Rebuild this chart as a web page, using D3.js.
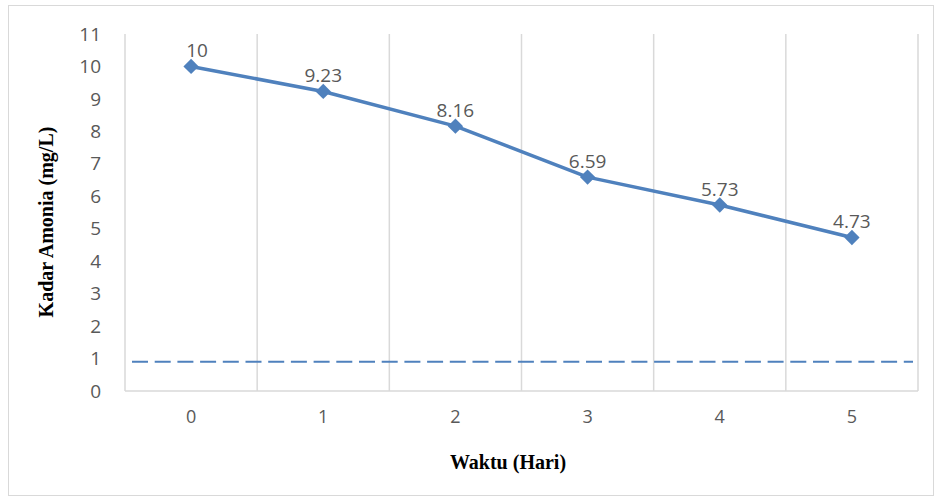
<!DOCTYPE html>
<html><head><meta charset="utf-8">
<script src="https://cdn.jsdelivr.net/npm/d3@7"></script>
<style>body{margin:0;background:#fff}svg{display:block}</style>
</head><body>
<script>
const categories = ["0","1","2","3","4","5"];
const values = [10, 9.23, 8.16, 6.59, 5.73, 4.73];
const valueLabels = ["10","9.23","8.16","6.59","5.73","4.73"];
const thresholdValue = [0.9];
const yTicks = [0,1,2,3,4,5,6,7,8,9,10,11];

const W = 935, H = 497;
const m = {left:125, right:17, top:34, bottom:106};
const svg = d3.select("body").append("svg").attr("width", W).attr("height", H);
svg.append("rect").attr("x",8.5).attr("y",5.5).attr("width",925).attr("height",490)
  .attr("fill","#fff").attr("stroke","#d9d9d9").attr("stroke-width",1);

const x = d3.scaleBand().domain(categories).range([m.left, W - m.right]).padding(0);
const y = d3.scaleLinear().domain([0, 11]).range([H - m.bottom, m.top]);

const bounds = categories.map(c => x(c)).concat([x(categories[categories.length-1]) + x.bandwidth()]);
svg.append("g").selectAll("line").data(bounds).join("line")
  .attr("x1", d => d).attr("x2", d => d).attr("y1", y(11)).attr("y2", y(0))
  .attr("stroke", "#d9d9d9").attr("stroke-width", 1.5);

svg.append("line").attr("x1", m.left).attr("x2", W - m.right).attr("y1", y(0)).attr("y2", y(0))
  .attr("stroke", "#d9d9d9").attr("stroke-width", 1.5);

const tickFont = "Open Sans, Liberation Sans, Arial, sans-serif";
const yAxis = d3.axisLeft(y).tickValues(yTicks).tickSize(0).tickPadding(24);
const gy = svg.append("g").attr("transform", `translate(${m.left},0)`).call(yAxis);
gy.select(".domain").remove();
gy.selectAll("text").attr("fill", "#595959").style("font-family", tickFont).style("font-size", "19px");

const xAxis = d3.axisBottom(x).tickSize(0).tickPadding(19);
const gx = svg.append("g").attr("transform", `translate(0,${y(0)})`).call(xAxis);
gx.select(".domain").remove();
gx.selectAll("text").attr("fill", "#595959").style("font-family", tickFont).style("font-size", "18px");

svg.append("g").selectAll("line").data(thresholdValue).join("line")
  .attr("x1", 132).attr("x2", 913).attr("y1", d => y(d)).attr("y2", d => y(d))
  .attr("stroke", "#4f81bd").attr("stroke-width", 2).attr("stroke-dasharray", "16,6.7");

const cx = c => x(c) + x.bandwidth()/2;
const line = d3.line().x((d,i) => cx(categories[i])).y(d => y(d));
svg.append("path").datum(values).attr("d", line).attr("fill","none")
  .attr("stroke", "#4f81bd").attr("stroke-width", 3.5).attr("stroke-linejoin","round");

svg.append("g").selectAll("path").data(values).join("path")
  .attr("d", d3.symbol().type(d3.symbolDiamond2).size(150)())
  .attr("transform", (d,i) => `translate(${cx(categories[i])},${y(d)})`)
  .attr("fill", "#4f81bd");

svg.append("g").selectAll("text").data(values).join("text")
  .attr("x", (d,i) => cx(categories[i]) + (i===0 ? 6 : 0))
  .attr("y", d => y(d) - 16)
  .attr("dy", "0.35em")
  .attr("text-anchor", "middle")
  .attr("fill", "#595959")
  .style("font-family", tickFont).style("font-size", "19px")
  .text((d,i) => valueLabels[i]);

svg.append("text").attr("x", 508).attr("y", 469).attr("text-anchor","middle")
  .style("font-family","Liberation Serif, Times New Roman, serif").style("font-weight","bold").style("font-size","20px")
  .text("Waktu (Hari)");
svg.append("text").attr("transform","translate(53,222) rotate(-90)").attr("text-anchor","middle")
  .style("font-family","Liberation Serif, Times New Roman, serif").style("font-weight","bold").style("font-size","20px")
  .text("Kadar Amonia (mg/L)");
</script>
</body></html>
